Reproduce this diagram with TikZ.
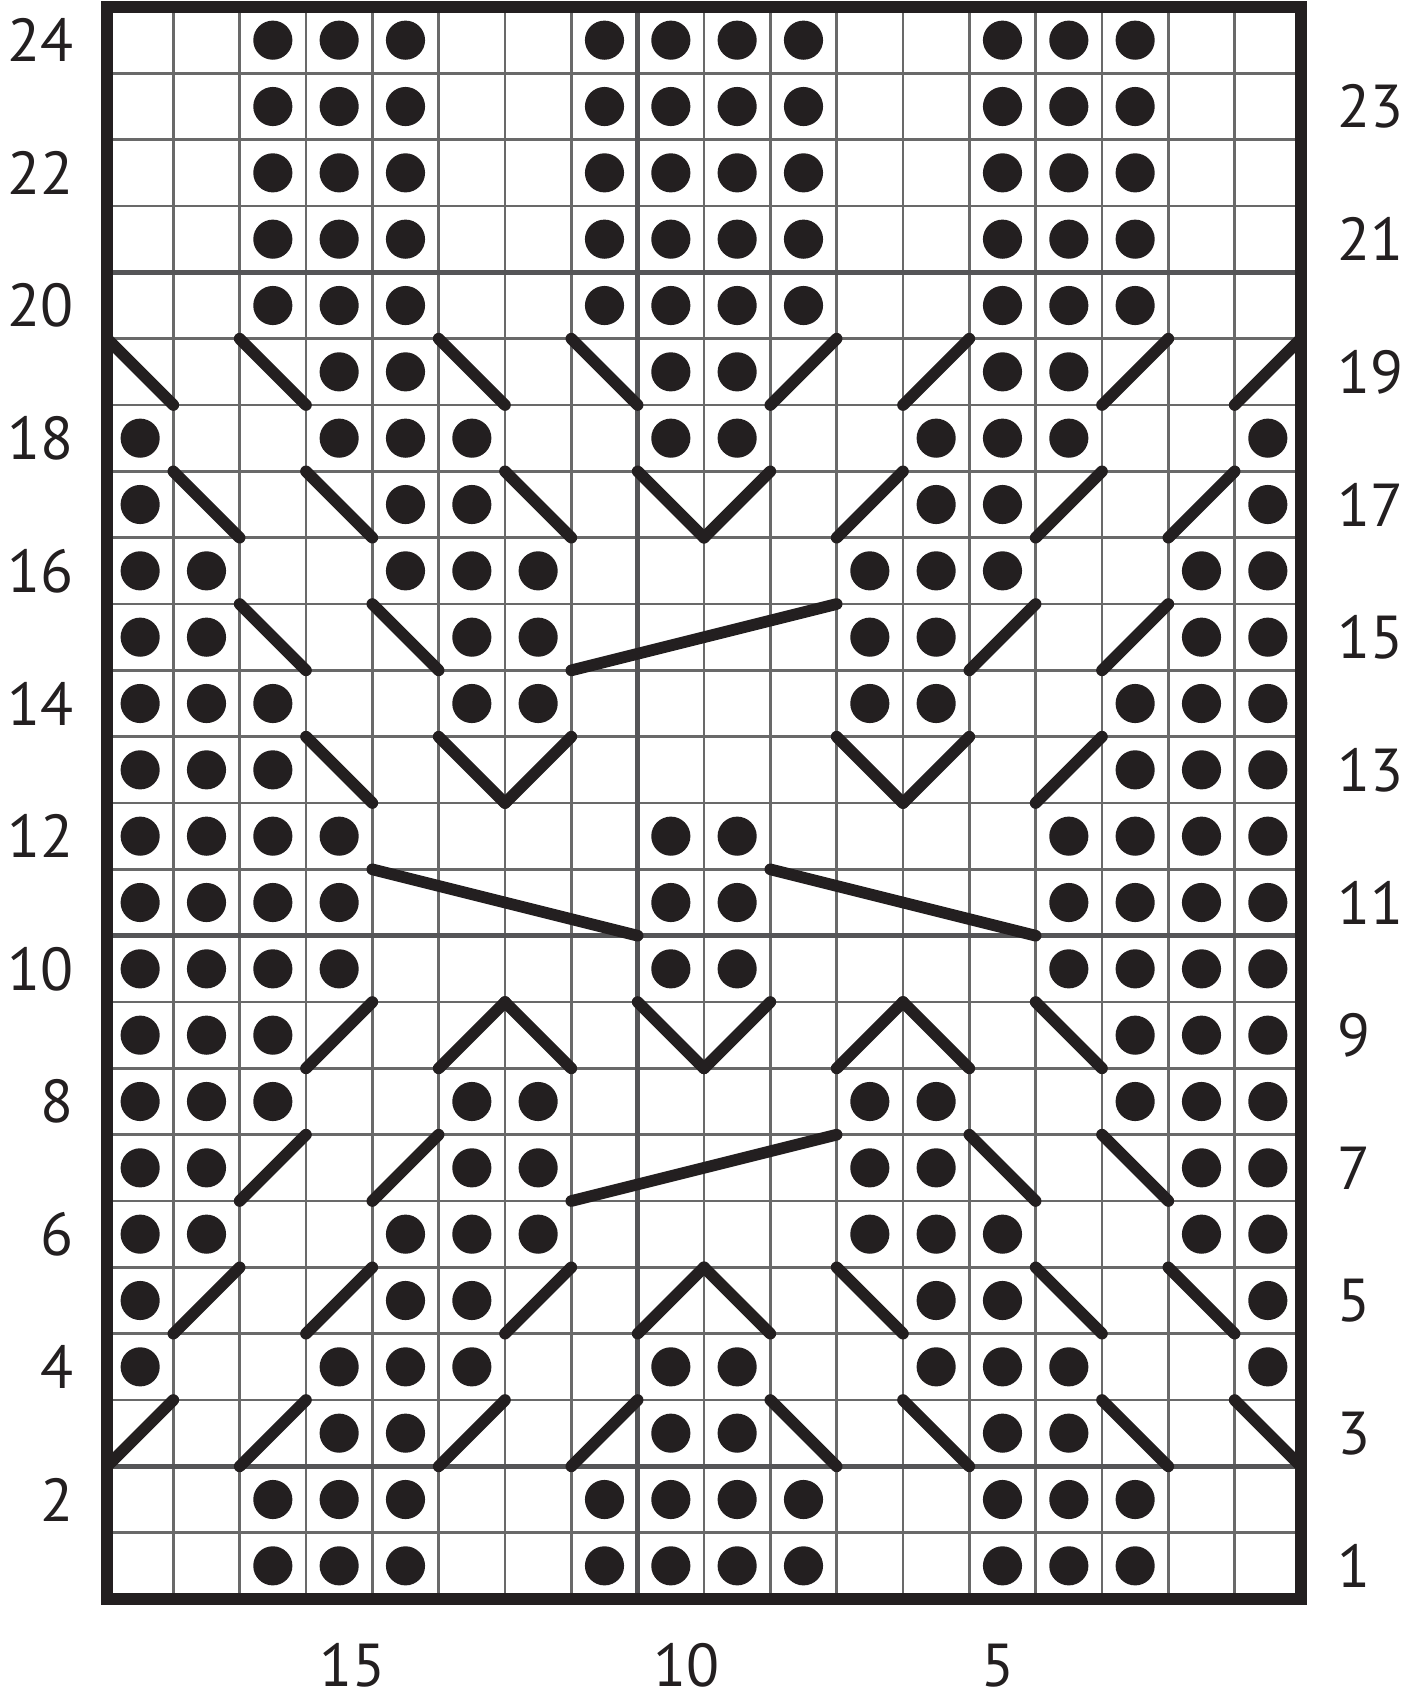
\documentclass[tikz,border=0pt]{standalone}
\usepackage{fontspec}
\setmainfont{PT Sans}
\usetikzlibrary{positioning}
\definecolor{ink}{RGB}{35,31,32}
\definecolor{gridgray}{RGB}{105,105,105}
\definecolor{repeatgray}{RGB}{85,85,87}

\begin{document}
\begin{tikzpicture}[
    gridline/.style={draw=gridgray, line width=1.1pt},
    repeatline/.style={draw=repeatgray, line width=2.2pt},
    frame/.style={draw=ink, line width=5.3pt},
    stitch/.style={draw=ink, line width=5pt, line cap=round},
    purl/.style={fill=ink},
    rowno/.style={font=\fontsize{26}{26}\selectfont, text=ink, inner sep=0pt},
  ]
  \useasboundingbox (-1.613,-1.447) rectangle (19.539,24.106);

  % grid
  \foreach \x in {1,...,17} \draw[gridline] (\x,0) -- (\x,24);
  \foreach \y in {1,...,23} \draw[gridline] (0,\y) -- (18,\y);
  \draw[repeatline] (8,0) -- (8,24);
  \foreach \y in {2,10,20} \draw[repeatline] (0,\y) -- (18,\y);

  % purl dots, row / columns counted from the left
  \foreach \r/\cs in {
      1/{2,3,4,7,8,9,10,13,14,15},
      2/{2,3,4,7,8,9,10,13,14,15},
      3/{3,4,8,9,13,14},
      4/{0,3,4,5,8,9,12,13,14,17},
      5/{0,4,5,12,13,17},
      6/{0,1,4,5,6,11,12,13,16,17},
      7/{0,1,5,6,11,12,16,17},
      8/{0,1,2,5,6,11,12,15,16,17},
      9/{0,1,2,15,16,17},
      10/{0,1,2,3,8,9,14,15,16,17},
      11/{0,1,2,3,8,9,14,15,16,17},
      12/{0,1,2,3,8,9,14,15,16,17},
      13/{0,1,2,15,16,17},
      14/{0,1,2,5,6,11,12,15,16,17},
      15/{0,1,5,6,11,12,16,17},
      16/{0,1,4,5,6,11,12,13,16,17},
      17/{0,4,5,12,13,17},
      18/{0,3,4,5,8,9,12,13,14,17},
      19/{3,4,8,9,13,14},
      20/{2,3,4,7,8,9,10,13,14,15},
      21/{2,3,4,7,8,9,10,13,14,15},
      22/{2,3,4,7,8,9,10,13,14,15},
      23/{2,3,4,7,8,9,10,13,14,15},
      24/{2,3,4,7,8,9,10,13,14,15}} {
    \foreach \c in \cs
      \fill[purl] (\c+0.5,\r-0.5) circle (0.295);
  }

  % decreases leaning left
  \foreach \c/\r in {0/19,2/19,5/19,7/19, 1/17,3/17,6/17,8/17, 2/15,4/15,
      3/13,5/13,11/13, 6/9,8/9,12/9,14/9, 13/7,15/7,
      9/5,11/5,14/5,16/5, 10/3,12/3,15/3,17/3}
    \draw[stitch] (\c,\r) -- ++(1,-1);
  % decreases leaning right
  \foreach \c/\r in {10/19,12/19,15/19,17/19, 9/17,11/17,14/17,16/17,
      13/15,15/15, 6/13,12/13,14/13, 3/9,5/9,9/9,11/9, 2/7,4/7,
      1/5,3/5,6/5,8/5, 0/3,2/3,5/3,7/3}
    \draw[stitch] (\c,\r-1) -- ++(1,1);

  % long cables
  \draw[stitch] (7,14) -- (11,15);
  \draw[stitch] (4,11) -- (8,10);
  \draw[stitch] (10,11) -- (14,10);
  \draw[stitch] (7,6) -- (11,7);

  \draw[frame] (0,0) rectangle (18,24);

  % row and stitch numbers
  \foreach \r in {2,4,...,24}
    \node[rowno, anchor=east] (even\r) at (-0.5,\r-0.5) {\r};
  \foreach \r in {1,3,...,23}
    \node[rowno, anchor=west] (odd\r) at (18.54,\r-0.5) {\r};
  \node[rowno] (st15) at (3.70,-1.0) {15};
  \node[rowno] (st10) at (8.73,-1.0) {10};
  \node[rowno] (st5) at (13.43,-1.0) {5};

\end{tikzpicture}
\end{document}
